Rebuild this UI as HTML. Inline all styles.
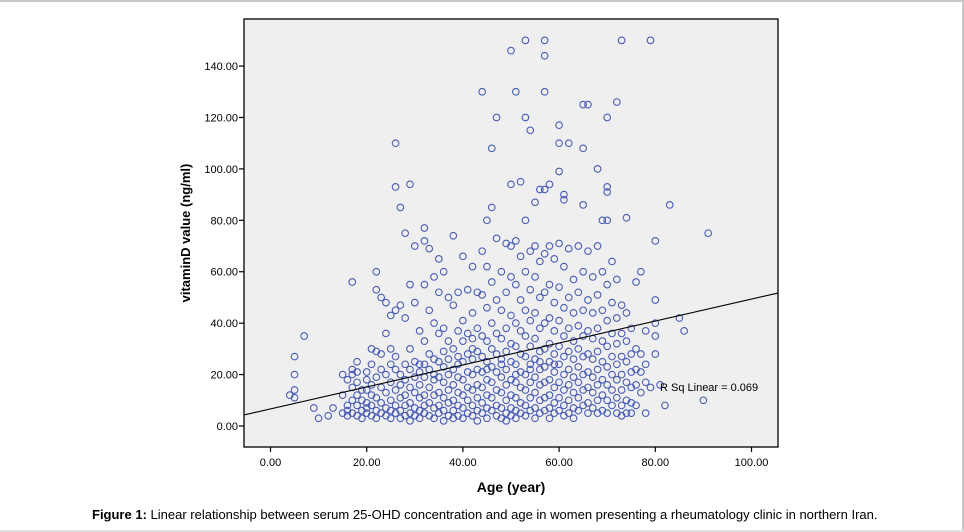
<!DOCTYPE html>
<html><head><meta charset="utf-8"><style>
body{margin:0;background:#fff;width:964px;height:532px;overflow:hidden;font-family:"Liberation Sans",sans-serif;}
</style></head><body>
<svg width="964" height="532" style="position:absolute;left:0;top:0">
<line x1="0" y1="1" x2="964" y2="1" stroke="#c8c8c8" stroke-width="2"/>
<line x1="963" y1="0" x2="963" y2="532" stroke="#c8c8c8" stroke-width="2"/>
<line x1="0" y1="531" x2="964" y2="531" stroke="#e0e0e0" stroke-width="2"/>
<rect x="244" y="19" width="534" height="428" fill="#efefef" stroke="#000" stroke-width="1.3"/>
<g id="marks"></g>
<g id="axes"></g>
<text x="190" y="233" transform="rotate(-90 190 233)" text-anchor="middle" font-size="13" font-weight="bold">vitaminD value (ng/ml)</text>
<text x="511" y="492" text-anchor="middle" font-size="14" font-weight="bold">Age (year)</text>
<text x="92" y="519" font-size="13"><tspan font-weight="bold">Figure 1:</tspan> Linear relationship between serum 25-OHD concentration and age in women presenting a rheumatology clinic in northern Iran.</text>
</svg>
<script>
const xTicks=[0,20,40,60,80,100];
const yTicks=[0,20,40,60,80,100,120,140];
const ages=[4,5,7,9,10,12,13,15,16,17,18,19,20,21,22,23,24,25,26,27,28,29,30,31,32,33,34,35,36,37,38,39,40,41,42,43,44,45,46,47,48,49,50,51,52,53,54,55,56,57,58,59,60,61,62,63,64,65,66,67,68,69,70,71,72,73,74,75,76,77,78,79,80,81,82,83,85,86,90,91];
const vitD=[[12],[27,20,14,11],[35],[7],[3],[4],[7],[5,12,20],[8,4,18,6],[56,20,15,10,5,22],[25,17,12,8,4,21],[6,3,10,14],[21,18,14,9,5,7],[30,24,16,12,8,4],[60,53,29,19,11,6,3],[50,28,22,15,9,5],[48,20,13,7,4,36],[43,30,24,17,10,6,3],[110,93,45,27,22,14,8,5],[85,47,20,16,11,6,3],[75,42,24,18,12,8,4],[94,55,30,22,15,9,5,2],[70,48,25,19,13,7,4],[37,21,16,11,6,3,24],[77,72,55,33,24,19,12,8,5],[69,45,28,22,15,9,4],[58,40,26,18,12,7,3,20],[65,52,36,25,19,13,8,5],[60,38,23,17,11,6,2,29],[50,33,26,20,14,9,4],[74,47,30,22,16,10,6,3],[52,37,27,19,13,8,4,24],[66,41,33,25,18,12,7,3],[53,36,28,21,15,10,5],[62,44,34,26,20,14,8,4,30],[52,38,29,22,16,11,6,2],[130,68,51,35,27,21,15,9,5],[80,62,46,33,25,18,12,7,3,22],[108,85,56,40,30,23,17,11,6],[120,73,49,36,28,21,14,8,4],[60,45,34,26,19,13,7,3,24],[71,52,38,29,22,16,10,5,2],[146,94,70,58,43,32,25,18,12,7,4],[130,72,55,40,31,24,17,11,6,3,20],[95,66,49,37,28,21,15,9,5],[150,120,80,60,45,35,27,20,14,8,4],[115,68,53,41,31,24,17,11,6,22],[87,70,58,44,34,26,19,13,7,3],[92,64,50,38,29,22,16,10,5,25],[150,144,130,92,67,52,40,30,23,17,11,6],[94,70,55,42,32,25,18,12,7,3],[65,48,37,28,21,15,9,5,24],[117,110,99,71,54,41,31,24,17,11,6],[90,88,62,46,35,27,20,14,8,4],[110,69,50,38,29,22,16,10,5],[57,44,33,26,19,13,7,3],[70,52,39,30,23,17,11,6],[125,108,86,60,45,35,27,20,14,8],[125,68,49,37,28,21,15,9,5],[58,44,34,26,19,13,7],[100,70,51,38,29,22,16,10,5],[80,60,45,33,25,18,12,6],[120,93,91,80,55,41,31,23,16,10,5],[64,48,36,27,20,14,8],[126,57,42,32,24,18,11,5],[150,47,36,27,20,14,8,4],[81,44,33,25,17,10,5],[38,28,21,15,9,5],[56,30,22,16,8],[60,28,21,13],[37,24,17,5],[150,15],[72,49,40,35,28],[16],[8],[86],[42],[37],[10],[75]];
const fitIntercept=6.65, fitSlope=0.427;
const NS="http://www.w3.org/2000/svg";
const X=v=>270.5+v*4.81, Y=v=>426-v*2.571;
const marks=document.getElementById('marks'), axes=document.getElementById('axes');
function mk(tag,attrs,parent){const e=document.createElementNS(NS,tag);for(const k in attrs)e.setAttribute(k,attrs[k]);parent.appendChild(e);return e;}
ages.forEach((a,i)=>{vitD[i].forEach(v=>{
  const c=mk('circle',{cx:X(a),cy:Y(v),r:3.3,fill:'none',stroke:'#4a5db3','stroke-width':1.1},marks);
  
  
});});
const x0=-5.5,x1=105.5;
const fl=mk('line',{x1:X(x0),y1:Y(fitIntercept+fitSlope*x0),x2:X(x1),y2:Y(fitIntercept+fitSlope*x1),stroke:'#000','stroke-width':1.1},marks);


const rl=mk('text',{x:660,y:391,'font-size':11},marks);rl.textContent='R Sq Linear = 0.069';


xTicks.forEach(t=>{
  mk('line',{x1:X(t),y1:447,x2:X(t),y2:452,stroke:'#000','stroke-width':1.2},axes);
  const tx=mk('text',{x:X(t),y:466,'text-anchor':'middle','font-size':11},axes);tx.textContent=t.toFixed(2);
  
  
});
yTicks.forEach(t=>{
  mk('line',{x1:239,y1:Y(t),x2:244,y2:Y(t),stroke:'#000','stroke-width':1.2},axes);
  const tx=mk('text',{x:238,y:Y(t)+4,'text-anchor':'end','font-size':11},axes);tx.textContent=t.toFixed(2);
  
  
});
</script>
</body></html>
